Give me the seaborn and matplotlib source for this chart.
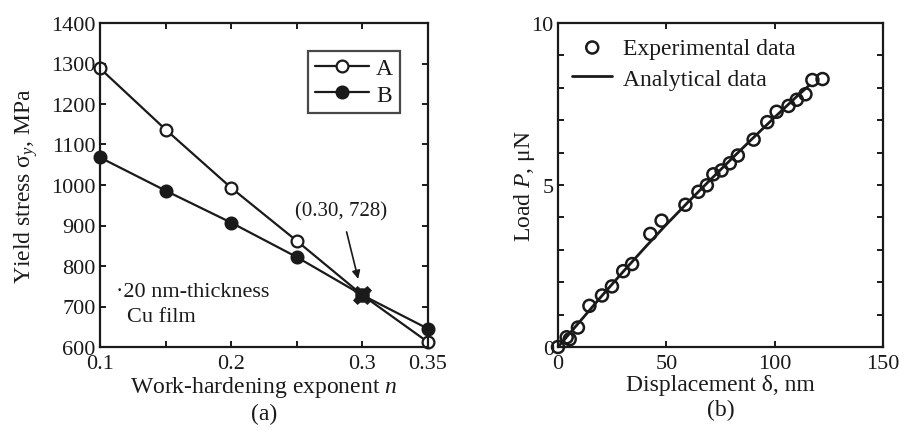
import numpy as np
import pandas as pd
import matplotlib
matplotlib.use("Agg")
import matplotlib.pyplot as plt
import seaborn as sns

# ---- data -------------------------------------------------------------
n_values = [0.10, 0.15, 0.20, 0.25, 0.30, 0.35]
stress_A = [1288, 1137, 993, 862, 728, 612]
stress_B = [1068, 986, 907, 822, 728, 645]
cross_point = (0.30, 728)

disp_exp = [0.0, 4.0, 5.4, 9.2, 14.5, 20.3, 24.9, 30.1, 34.2, 42.6, 47.8,
            58.8, 64.8, 68.7, 71.7, 75.5, 79.3, 83.0, 90.3, 96.6, 100.9,
            106.4, 110.2, 114.2, 117.4, 122.1]
load_exp = [0.0, 0.30, 0.24, 0.60, 1.27, 1.59, 1.87, 2.34, 2.56, 3.49, 3.90,
            4.39, 4.79, 4.99, 5.33, 5.45, 5.67, 5.91, 6.40, 6.94, 7.26,
            7.44, 7.63, 7.80, 8.24, 8.27]
disp_ana = [0, 10, 20, 30, 40, 50, 60, 70, 80, 90, 100, 110, 116]
load_ana = [0, 0.78, 1.56, 2.32, 3.06, 3.78, 4.47, 5.14, 5.80, 6.45, 7.09,
            7.72, 8.08]

xticks_a = [0.10, 0.15, 0.20, 0.25, 0.30, 0.35]
xticklabels_a = ["0.1", "", "0.2", "", "0.3", "0.35"]
yticks_a = list(range(600, 1401, 100))
xticks_b = [0, 50, 100, 150]
yticks_b = list(range(0, 11))
yticklabels_b = ["0", "", "", "", "", "5", "", "", "", "", "10"]

# ---- style ------------------------------------------------------------
sns.set_theme(style="ticks")
ink = "#1a1a1a"
plt.rcParams.update({
    "font.family": ["Liberation Serif", "DejaVu Serif"],
    "mathtext.fontset": "custom",
    "mathtext.rm": "Liberation Serif",
    "mathtext.it": "Liberation Serif:italic",
    "font.size": 16,
    "axes.labelsize": 17,
    "text.color": ink,
    "axes.labelcolor": ink,
    "xtick.color": ink,
    "ytick.color": ink,
    "axes.edgecolor": ink,
    "axes.linewidth": 1.6,
    "xtick.direction": "in",
    "ytick.direction": "in",
    "xtick.major.size": 4,
    "ytick.major.size": 4,
    "xtick.major.width": 1.4,
    "ytick.major.width": 1.4,
    "xtick.labelsize": 16,
    "ytick.labelsize": 16,
    "xtick.major.pad": 5,
    "ytick.major.pad": 3,
})

fig = plt.figure(figsize=(9.06, 4.35), dpi=100)
ax1 = fig.add_axes([100 / 906, 87 / 435, 328 / 906, 324 / 435])
ax2 = fig.add_axes([558 / 906, 87 / 435, 325 / 906, 324 / 435])

# ---- panel (a) --------------------------------------------------------
df_a = pd.DataFrame({"n": n_values + n_values,
                     "stress": stress_A + stress_B,
                     "series": ["A"] * len(n_values) + ["B"] * len(n_values)})
line_kw = dict(color=ink, linewidth=1.6, markersize=8.5, markeredgewidth=1.6,
               clip_on=False)
sns.lineplot(data=df_a[df_a.series == "A"], x="n", y="stress", ax=ax1,
             marker="o", markerfacecolor="white", markeredgecolor=ink,
             label="A", **line_kw)
sns.lineplot(data=df_a[df_a.series == "B"], x="n", y="stress", ax=ax1,
             marker="o", markerfacecolor=ink, markeredgecolor=ink,
             label="B", **line_kw)
ax1.plot([cross_point[0]], [cross_point[1]], marker="X", markersize=13,
         color=ink, markeredgewidth=0.5, zorder=5)

ax1.set_xlim(0.10, 0.35)
ax1.set_ylim(600, 1400)
ax1.set_xticks(xticks_a)
ax1.set_xticklabels(xticklabels_a)
ax1.set_yticks(yticks_a)
ax1.tick_params(top=True, right=True)
ax1.set_xlabel("Work-hardening exponent $\\mathit{n}$\n(a)", labelpad=1,
               linespacing=1.2)
ax1.set_ylabel("Yield stress σ$_y$, MPa", labelpad=8)

leg = ax1.legend(loc="upper right", bbox_to_anchor=(0.915, 0.914),
                 frameon=True, fancybox=False, edgecolor=ink,
                 handlelength=2.3, handletextpad=0.3, borderpad=0.3,
                 labelspacing=0.2, fontsize=17, borderaxespad=0)
leg.get_frame().set_linewidth(1.6)

ax1.annotate(f"({cross_point[0]:.2f}, {cross_point[1]})",
             xy=(0.2968, 768), xytext=(0.284, 936),
             ha="center", va="center", fontsize=15,
             arrowprops=dict(arrowstyle="-|>", color=ink, lw=1.2,
                             mutation_scale=12, shrinkA=6, shrinkB=0))
ax1.text(0.1125, 738, "·20 nm-thickness", fontsize=16, ha="left",
         va="center")
ax1.text(0.1205, 676, "Cu film", fontsize=16, ha="left", va="center")

# ---- panel (b) --------------------------------------------------------
df_exp = pd.DataFrame({"disp": disp_exp, "load": load_exp})
df_ana = pd.DataFrame({"disp": disp_ana, "load": load_ana})
sns.lineplot(data=df_ana, x="disp", y="load", ax=ax2, color=ink,
             linewidth=2.0, label="Analytical data", zorder=2)
sns.scatterplot(data=df_exp, x="disp", y="load", ax=ax2, s=75,
                facecolor="none", edgecolor=ink, linewidth=1.8,
                label="Experimental data", zorder=3, clip_on=False)

ax2.set_xlim(0, 150)
ax2.set_ylim(0, 10)
ax2.set_xticks(xticks_b)
ax2.set_yticks(yticks_b)
ax2.set_yticklabels(yticklabels_b)
ax2.tick_params(top=True, right=True)
ax2.set_xlabel("Displacement δ, nm\n(b)", labelpad=1, linespacing=1.2)
ax2.set_ylabel("Load $\\mathit{P}$, μN", labelpad=-4)

handles, labels = ax2.get_legend_handles_labels()
order = [labels.index("Experimental data"), labels.index("Analytical data")]
ax2.legend([handles[i] for i in order], [labels[i] for i in order],
           loc="upper left", bbox_to_anchor=(0.0, 1.0), frameon=False,
           handlelength=1.7, handletextpad=0.45, labelspacing=0.4,
           fontsize=17, borderaxespad=0, borderpad=0.6)

fig.savefig("out.png", dpi=100)
